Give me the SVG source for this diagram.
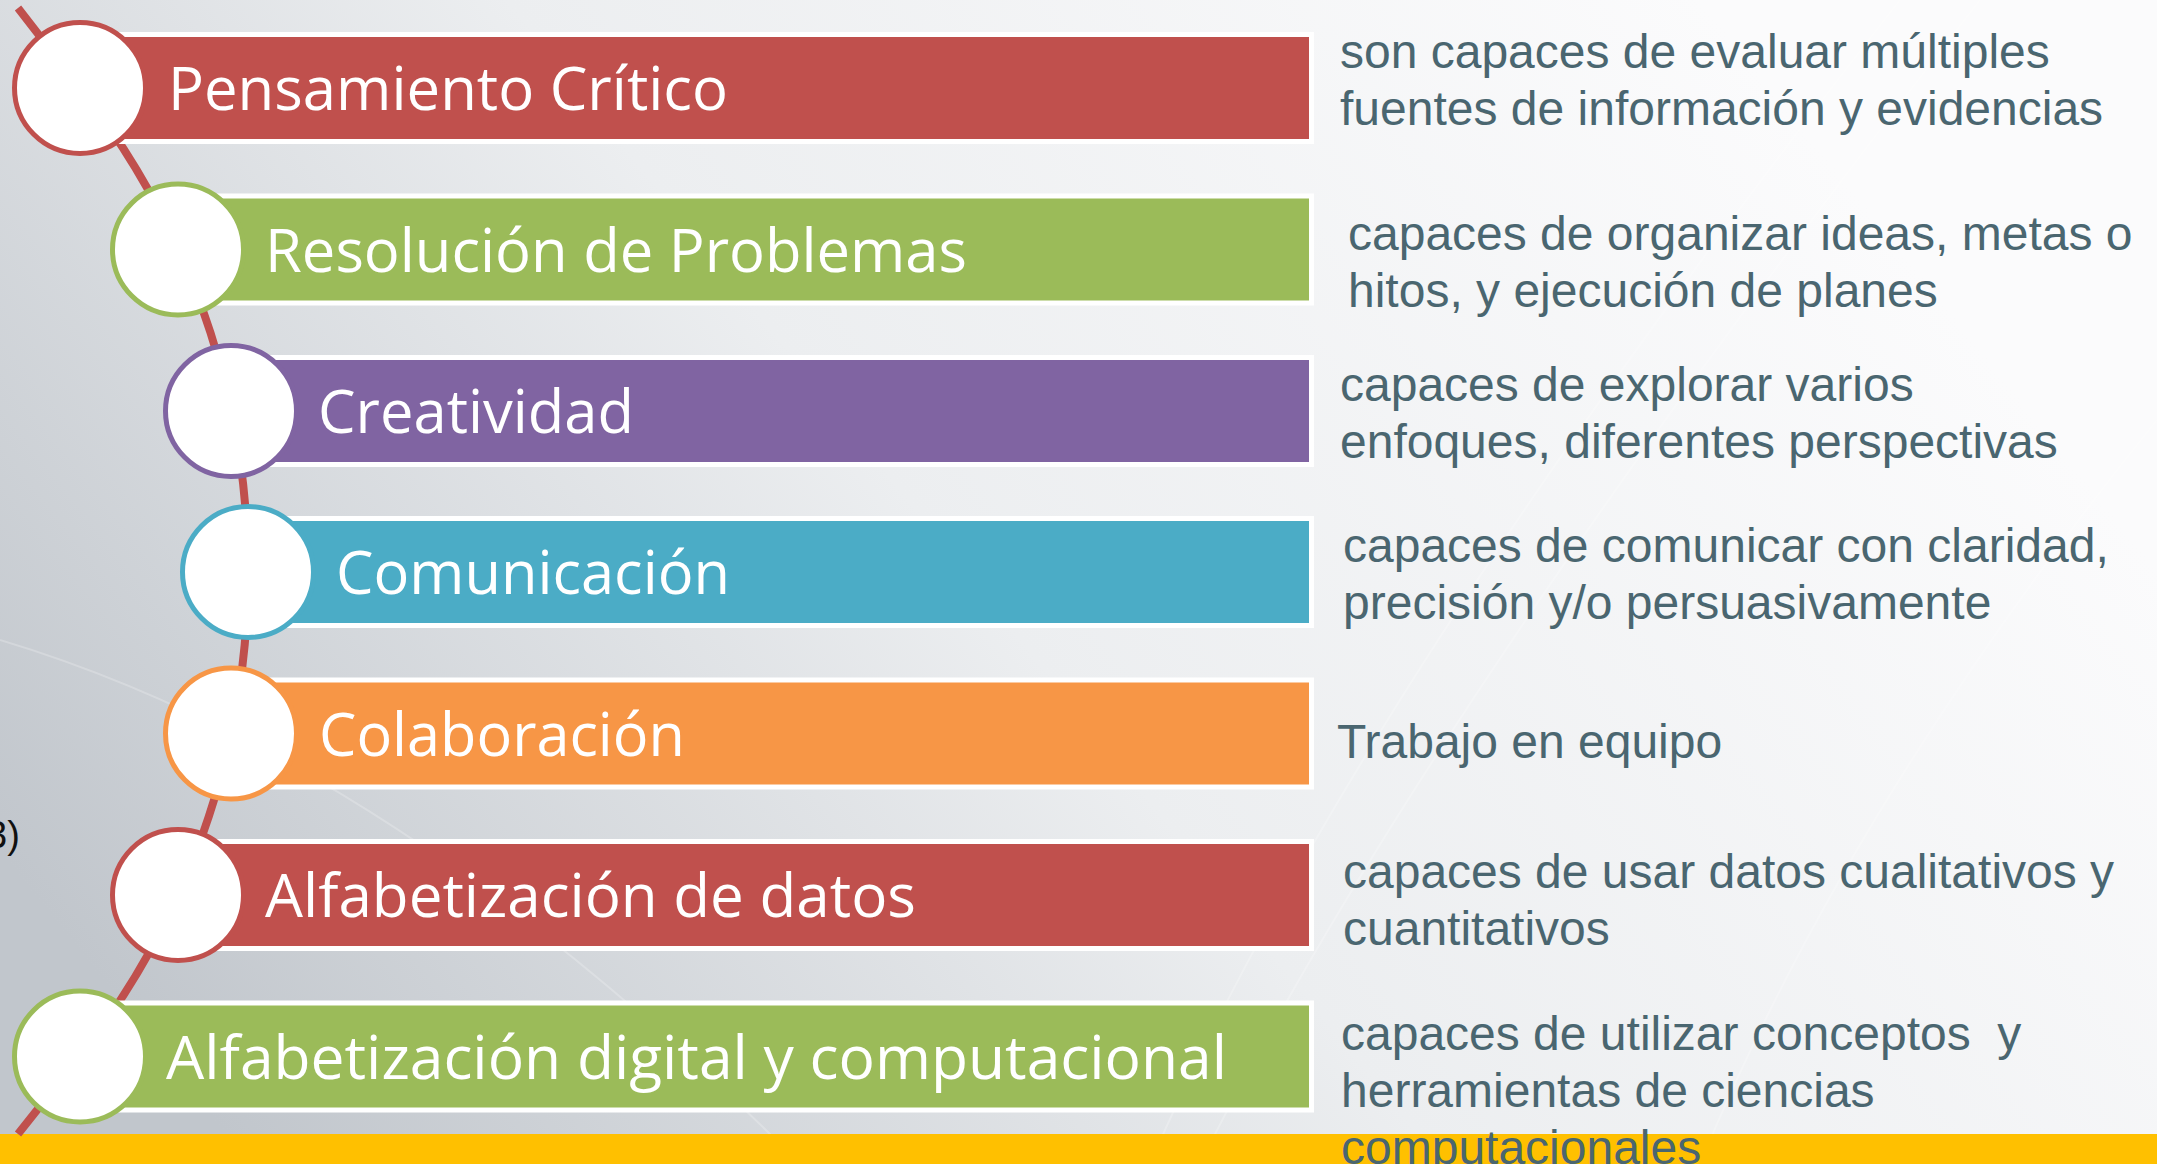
<svg xmlns="http://www.w3.org/2000/svg" width="2157" height="1164" viewBox="0 0 2157 1164">
<defs>
<linearGradient id="bg" gradientUnits="userSpaceOnUse" x1="1700" y1="0" x2="250" y2="1164">
<stop offset="0" stop-color="#fbfbfc"/>
<stop offset="0.5" stop-color="#eceef0"/>
<stop offset="1" stop-color="#c1c6cc"/>
</linearGradient>
<style>
.bar-w{fill:#ffffff}
.ring{fill:#ffffff;stroke-width:5}
.lbl{font-family:"Open Sans","Noto Sans","Liberation Sans",sans-serif;font-size:60px;fill:#ffffff}
.desc{font-family:"Liberation Sans",Arial,sans-serif;font-size:48px;fill:#4a6670}
.red{fill:#c0504d}.green{fill:#9bbb59}.purple{fill:#8064a2}.blue{fill:#4bacc6}.orange{fill:#f79646}
.s-red{stroke:#c0504d}.s-green{stroke:#9bbb59}.s-purple{stroke:#8064a2}.s-blue{stroke:#4bacc6}.s-orange{stroke:#f79646}
</style>
</defs>
<rect x="0" y="0" width="2157" height="1164" fill="url(#bg)"/>
<g id="texture" stroke="#ffffff" stroke-opacity="0.22" stroke-width="2" fill="none">
<path d="M1150 1164 Q1350 700 1900 0"/>
<path d="M1200 1164 Q1420 720 1980 0"/>
<path d="M1700 1164 Q1850 800 2157 420"/>
<path d="M0 640 Q400 760 800 1164"/>
</g>
<rect id="band" x="0" y="1134" width="2157" height="30" fill="#ffc000"/>
<text x="-14" y="848" font-family="Liberation Sans, Arial, sans-serif" font-size="38" fill="#111111">3)</text>
<g id="connectors">
<path d="M18 8 L80 88 A781 781 0 0 1 80 1056 L18 1134" fill="none" stroke="#c0504d" stroke-width="8"/>
</g>
<g id="node1">
<rect class="bar-w" x="80" y="32" width="1234" height="112"/>
<rect class="red" x="80" y="37" width="1229" height="102"/>
<circle class="ring s-red" cx="80" cy="88" r="65.5"/>
<text class="lbl" x="168" y="110" textLength="560" lengthAdjust="spacingAndGlyphs">Pensamiento Crítico</text>
</g>
<g id="node2">
<rect class="bar-w" x="178" y="193.5" width="1136" height="112"/>
<rect class="green" x="178" y="198.5" width="1131" height="102"/>
<circle class="ring s-green" cx="178" cy="249.5" r="65.5"/>
<text class="lbl" x="265" y="271.5" textLength="702" lengthAdjust="spacingAndGlyphs">Resolución de Problemas</text>
</g>
<g id="node3">
<rect class="bar-w" x="231" y="355" width="1083" height="112"/>
<rect class="purple" x="231" y="360" width="1078" height="102"/>
<circle class="ring s-purple" cx="231" cy="411" r="65.5"/>
<text class="lbl" x="318" y="433" textLength="316" lengthAdjust="spacingAndGlyphs">Creatividad</text>
</g>
<g id="node4">
<rect class="bar-w" x="248" y="516" width="1066" height="112"/>
<rect class="blue" x="248" y="521" width="1061" height="102"/>
<circle class="ring s-blue" cx="248" cy="572" r="65.5"/>
<text class="lbl" x="336" y="594" textLength="394" lengthAdjust="spacingAndGlyphs">Comunicación</text>
</g>
<g id="node5">
<rect class="bar-w" x="231" y="677.5" width="1083" height="112"/>
<rect class="orange" x="231" y="682.5" width="1078" height="102"/>
<circle class="ring s-orange" cx="231" cy="733.5" r="65.5"/>
<text class="lbl" x="319" y="755.5" textLength="366" lengthAdjust="spacingAndGlyphs">Colaboración</text>
</g>
<g id="node6">
<rect class="bar-w" x="178" y="839" width="1136" height="112"/>
<rect class="red" x="178" y="844" width="1131" height="102"/>
<circle class="ring s-red" cx="178" cy="895" r="65.5"/>
<text class="lbl" x="265" y="917" textLength="651" lengthAdjust="spacingAndGlyphs">Alfabetización de datos</text>
</g>
<g id="node7">
<rect class="bar-w" x="80" y="1000.5" width="1234" height="112"/>
<rect class="green" x="80" y="1005.5" width="1229" height="102"/>
<circle class="ring s-green" cx="80" cy="1056.5" r="65.5"/>
<text class="lbl" x="166" y="1078.5" textLength="1061" lengthAdjust="spacingAndGlyphs">Alfabetización digital y computacional</text>
</g>
<g id="descriptions">
<text class="desc" x="1340" y="68">son capaces de evaluar múltiples</text>
<text class="desc" x="1340" y="125">fuentes de información y evidencias</text>
<text class="desc" x="1348" y="250">capaces de organizar ideas, metas o</text>
<text class="desc" x="1348" y="307">hitos, y ejecución de planes</text>
<text class="desc" x="1340" y="401">capaces de explorar varios</text>
<text class="desc" x="1340" y="458">enfoques, diferentes perspectivas</text>
<text class="desc" x="1343" y="562">capaces de comunicar con claridad,</text>
<text class="desc" x="1343" y="619">precisión y/o persuasivamente</text>
<text class="desc" x="1337" y="758">Trabajo en equipo</text>
<text class="desc" x="1343" y="888">capaces de usar datos cualitativos y</text>
<text class="desc" x="1343" y="945">cuantitativos</text>
<text class="desc" x="1341" y="1050" xml:space="preserve">capaces de utilizar conceptos  y</text>
<text class="desc" x="1341" y="1107">herramientas de ciencias</text>
<text class="desc" x="1341" y="1164">computacionales</text>
</g>
</svg>
